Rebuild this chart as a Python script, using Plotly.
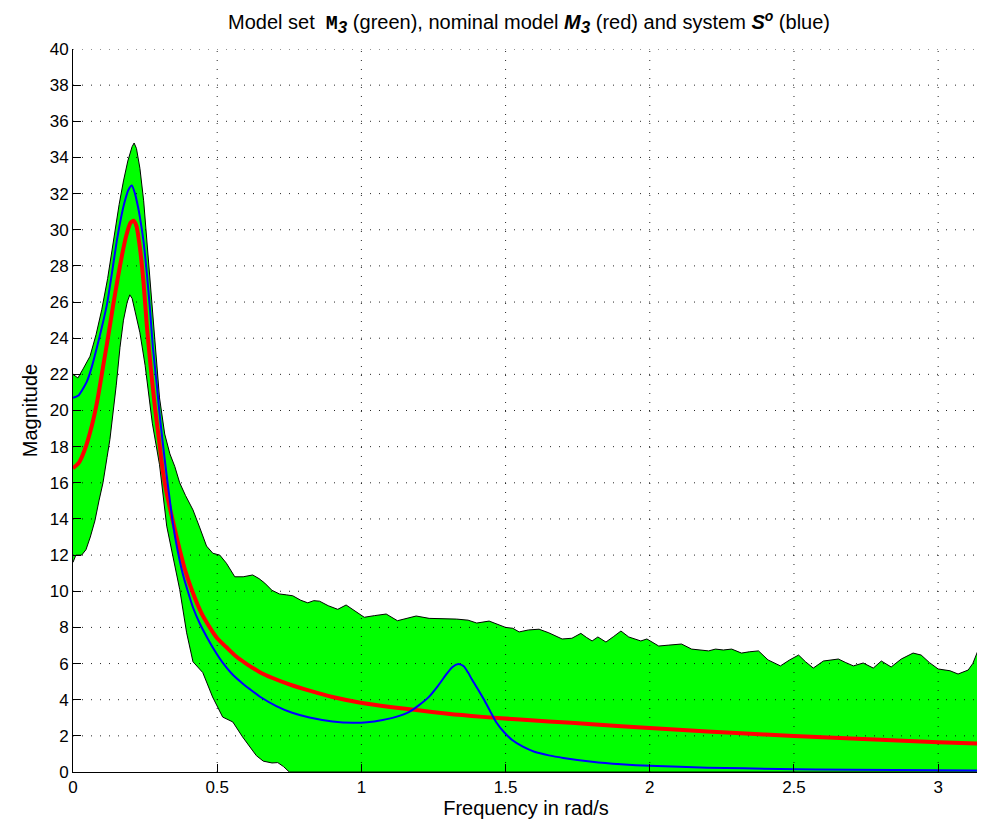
import math
import plotly.graph_objects as go

# ---------------- data ----------------
x_upper = [0.000, 0.017, 0.035, 0.059, 0.080, 0.100, 0.120, 0.140, 0.160, 0.175,
           0.190, 0.205, 0.212, 0.220, 0.232, 0.245, 0.260, 0.273, 0.287, 0.300,
           0.318, 0.336, 0.353, 0.370, 0.390, 0.416, 0.440, 0.463, 0.485, 0.509,
           0.532, 0.561, 0.590, 0.623, 0.645, 0.665, 0.690, 0.716, 0.740, 0.762,
           0.790, 0.814, 0.835, 0.855, 0.885, 0.918, 0.947, 0.975, 1.010, 1.045,
           1.086, 1.125, 1.155, 1.190, 1.235, 1.280, 1.330, 1.370, 1.400, 1.443,
           1.470, 1.500, 1.525, 1.547, 1.580, 1.616, 1.650, 1.696, 1.730, 1.761,
           1.780, 1.800, 1.820, 1.848, 1.875, 1.900, 1.927, 1.969, 1.990, 2.031,
           2.066, 2.110, 2.145, 2.175, 2.204, 2.228, 2.255, 2.284, 2.318, 2.345,
           2.377, 2.410, 2.453, 2.485, 2.516, 2.540, 2.567, 2.602, 2.625, 2.654,
           2.680, 2.706, 2.740, 2.775, 2.803, 2.837, 2.872, 2.913, 2.941, 2.970,
           3.000, 3.041, 3.069, 3.104, 3.120, 3.1416]
y_upper = [22.0, 21.8, 22.3, 23.0, 24.2, 25.6, 27.3, 29.4, 31.4, 32.7,
           33.8, 34.6, 34.8, 34.5, 33.4, 31.6, 28.7, 25.8, 23.0, 20.7,
           18.7, 17.6, 16.9, 16.0, 15.3, 14.5, 13.5, 12.5, 12.1, 12.0,
           11.55, 10.8, 10.8, 10.9, 10.7, 10.45, 10.05, 9.85, 9.8, 9.75,
           9.5, 9.36, 9.48, 9.45, 9.2, 9.0, 9.24, 8.95, 8.56, 8.65,
           8.74, 8.37, 8.5, 8.63, 8.5, 8.5, 8.46, 8.4, 8.24, 8.35,
           8.2, 8.0, 7.95, 7.75, 7.86, 7.9, 7.7, 7.36, 7.4, 7.67,
           7.45, 7.25, 7.47, 7.19, 7.5, 7.8, 7.47, 7.25, 7.36, 6.97,
           7.02, 7.08, 6.8, 6.75, 6.7, 6.8, 6.75, 6.8, 6.58, 6.65,
           6.7, 6.2, 5.87, 6.2, 6.47, 6.1, 5.75, 6.14, 6.2, 6.25,
           6.05, 5.87, 6.03, 5.75, 6.14, 5.81, 6.25, 6.58, 6.47, 6.05,
           5.7, 5.6, 5.42, 5.64, 6.0, 6.86]

x_lower = [0.000, 0.010, 0.030, 0.045, 0.060, 0.076, 0.090, 0.104, 0.118, 0.128,
           0.139, 0.150, 0.163, 0.175, 0.188, 0.197, 0.205, 0.215, 0.232, 0.250,
           0.275, 0.300, 0.325, 0.348, 0.370, 0.394, 0.416, 0.450, 0.484, 0.519,
           0.554, 0.588, 0.612, 0.636, 0.660, 0.690, 0.710, 0.730, 0.750, 3.1416]
y_lower = [11.6, 12.0, 12.0, 12.3, 13.0, 13.9, 15.0, 16.0, 17.4, 18.4,
           19.9, 21.4, 23.5, 25.0, 26.0, 26.4, 26.2, 25.5, 24.3, 22.5,
           19.3, 17.0, 13.6, 11.8, 10.1, 7.7, 6.1, 5.5, 4.15, 3.04,
           2.77, 1.94, 1.4, 0.9, 0.6, 0.5, 0.52, 0.3, 0.0, 0.0]

x_nominal = [0.000, 0.020, 0.040, 0.066, 0.085, 0.104, 0.122, 0.139, 0.155, 0.170,
             0.185, 0.200, 0.210, 0.220, 0.232, 0.245, 0.256, 0.270, 0.284, 0.298,
             0.311, 0.325, 0.336, 0.355, 0.370, 0.390, 0.416, 0.445, 0.474, 0.500,
             0.532, 0.565, 0.600, 0.645, 0.692, 0.750, 0.820, 0.900, 0.993, 1.100,
             1.190, 1.300, 1.420, 1.550, 1.650, 1.800, 2.000, 2.200, 2.400, 2.600,
             2.800, 3.000, 3.1416]
y_nominal = [16.8, 17.1, 17.8, 19.2, 20.6, 22.4, 24.1, 25.8, 27.3, 28.6,
             29.7, 30.4, 30.5, 30.2, 29.0, 27.0, 24.7, 22.3, 20.2, 18.4,
             16.7, 15.4, 14.6, 13.3, 12.3, 11.1, 9.9, 8.8, 8.0, 7.4,
             6.9, 6.4, 6.0, 5.55, 5.2, 4.85, 4.5, 4.15, 3.85, 3.6,
             3.43, 3.22, 3.05, 2.9, 2.8, 2.64, 2.43, 2.24, 2.07, 1.92,
             1.78, 1.65, 1.58]

x_system = [0.000, 0.020, 0.048, 0.065, 0.083, 0.100, 0.118, 0.135, 0.152, 0.167,
            0.180, 0.192, 0.204, 0.215, 0.225, 0.232, 0.245, 0.256, 0.267, 0.277,
            0.290, 0.300, 0.310, 0.318, 0.332, 0.346, 0.362, 0.380, 0.400, 0.416,
            0.440, 0.463, 0.490, 0.519, 0.550, 0.588, 0.612, 0.650, 0.705, 0.760,
            0.820, 0.900, 0.970, 1.020, 1.074, 1.120, 1.166, 1.200, 1.235, 1.265,
            1.293, 1.315, 1.336, 1.355, 1.370, 1.384, 1.405, 1.426, 1.447, 1.467,
            1.495, 1.523, 1.560, 1.600, 1.650, 1.700, 1.800, 1.900, 2.000, 2.200,
            2.450, 2.700, 3.000, 3.1416]
y_system = [20.7, 20.85, 21.6, 22.4, 23.5, 24.6, 25.9, 27.6, 29.4, 30.7,
            31.6, 32.2, 32.45, 32.0, 31.3, 30.7, 29.3, 27.6, 25.6, 23.5,
            21.5, 19.85, 18.4, 17.3, 15.5, 13.8, 12.3, 11.0, 9.9, 9.1,
            8.2, 7.5, 6.75, 6.05, 5.45, 4.9, 4.6, 4.15, 3.65, 3.28,
            3.02, 2.8, 2.72, 2.75, 2.88, 3.05, 3.33, 3.7, 4.17, 4.75,
            5.37, 5.8, 5.97, 5.85, 5.5, 5.1, 4.55, 3.98, 3.35, 2.77,
            2.2, 1.77, 1.4, 1.12, 0.92, 0.78, 0.57, 0.43, 0.34, 0.24,
            0.17, 0.12, 0.09, 0.08]

x_ticks = [0, 0.5, 1, 1.5, 2, 2.5, 3]
x_tick_labels = ["0", "0.5", "1", "1.5", "2", "2.5", "3"]
y_ticks = list(range(0, 41, 2))
y_tick_labels = [str(v) for v in y_ticks]

x_max = math.pi
y_max = 40

FONT = "Liberation Sans, Arial, Helvetica, sans-serif"

fig = go.Figure()

# model set (green band) as closed polygon: upper forward, lower backward
poly_x = x_upper + x_lower[::-1]
poly_y = y_upper + y_lower[::-1]
fig.add_trace(go.Scatter(x=poly_x, y=poly_y, mode="lines", fill="toself",
                         fillcolor="#00FF00", line=dict(color="black", width=1),
                         hoverinfo="skip", showlegend=False))

# dotted grid drawn above the band (MATLAB draws axes on top)
gx, gy = [], []
for xv in x_ticks[1:]:
    gx += [xv, xv, None]
    gy += [0, y_max, None]
for yv in y_ticks[1:]:
    gx += [0, x_max, None]
    gy += [yv, yv, None]
fig.add_trace(go.Scatter(x=gx, y=gy, mode="lines",
                         line=dict(color="rgba(0,0,0,0.85)", width=1, dash="1px,8px"),
                         hoverinfo="skip", showlegend=False))

fig.add_trace(go.Scatter(x=x_nominal, y=y_nominal, mode="lines",
                         line=dict(color="#FF0000", width=4, shape="spline", smoothing=0.6),
                         showlegend=False))
fig.add_trace(go.Scatter(x=x_system, y=y_system, mode="lines",
                         line=dict(color="#0000FF", width=2, shape="spline", smoothing=0.6),
                         showlegend=False))

SUB = "<sub><i><span style=\"font-size:17px\">3</span></i></sub>"
title_html = ("Model set  <b><span style=\"font-family:Liberation Mono\">M</span>"
              + SUB + "</b> (green), nominal model <b><i>M</i>" + SUB + "</b>"
              " (red) and system <b><i>S</i><sup><i>o</i></sup></b> (blue)")

# page body has an 8px margin: shrink the figure so the plot lands where the reference has it
W, H = 977, 819
fig.update_layout(
    width=W, height=H,
    margin=dict(l=65, r=6, t=41, b=55, autoexpand=False),
    paper_bgcolor="white", plot_bgcolor="white",
    font=dict(family=FONT, size=17, color="black"),
    title=dict(text=title_html, x=521 / W, xref="container", xanchor="center",
               y=1 - 14 / H, yref="container", yanchor="middle",
               font=dict(family=FONT, size=20, color="black")),
    xaxis=dict(range=[0, x_max], tickvals=x_ticks, ticktext=x_tick_labels,
               showgrid=False, zeroline=False, showline=True, linecolor="black",
               linewidth=1, ticks="inside", ticklen=8, tickcolor="black",
               layer="above traces", automargin=False,
               title=dict(text="Frequency in rad/s", standoff=4),
               tickfont=dict(size=17)),
    yaxis=dict(range=[0, y_max], tickvals=y_ticks, ticktext=y_tick_labels,
               showgrid=False, zeroline=False, showline=True, linecolor="black",
               linewidth=1, ticks="inside", ticklen=8, tickcolor="black",
               layer="above traces", automargin=False,
               title=dict(text="Magnitude", standoff=6),
               tickfont=dict(size=17)),
)

fig.write_html("out.html")
